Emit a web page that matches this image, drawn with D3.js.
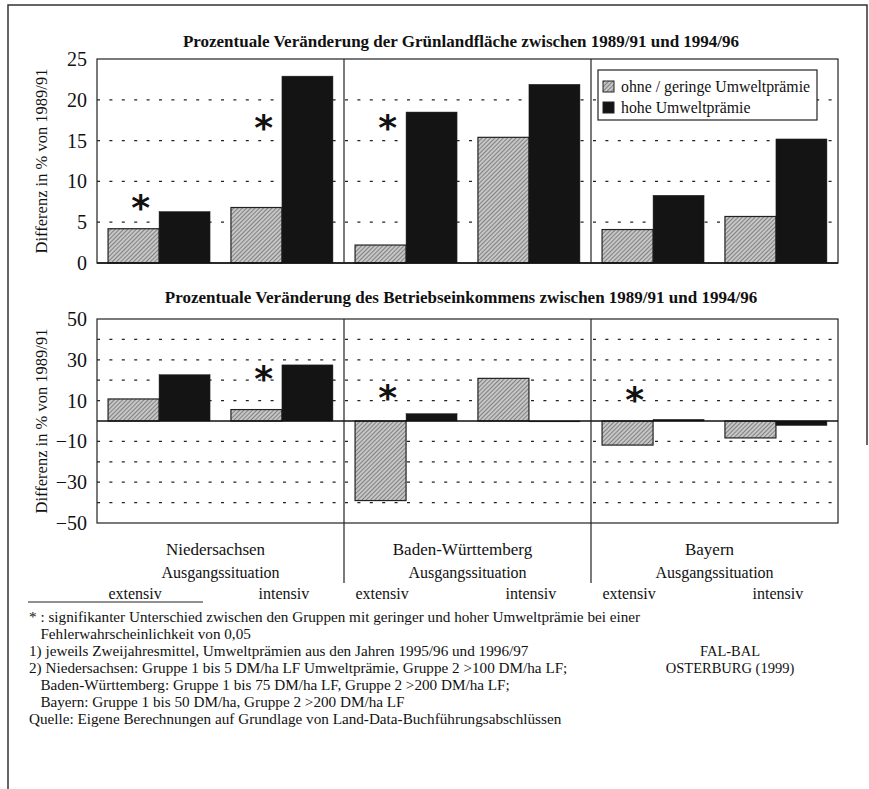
<!DOCTYPE html>
<html>
<head>
<meta charset="utf-8">
<script src="https://cdn.jsdelivr.net/npm/d3@7"></script>
<style>
  body { margin: 0; background: #fff; }
  text { font-family: "Liberation Serif", "Times New Roman", serif; fill: #111; }
</style>
</head>
<body>
<svg id="chart" width="869" height="789"></svg>
<script>
const regions = ['Niedersachsen', 'Baden-Württemberg', 'Bayern'];
const situations = ['extensiv', 'intensiv'];
const groups = ['ohne / geringe Umweltprämie', 'hohe Umweltprämie'];

// Grünlandfläche, % change (low / high premium), per region and situation
const gruenLow = [4.2, 6.8, 2.2, 15.4, 4.1, 5.7];
const gruenHigh = [6.3, 22.9, 18.5, 21.9, 8.3, 15.2];
// Betriebseinkommen, % change
const einkLow = [10.8, 5.6, -39.0, 20.9, -11.8, -8.3];
const einkHigh = [22.7, 27.5, 3.6, -0.4, 0.8, -2.2];
// significance markers (index of bar pair)
const gruenSig = [0, 1, 2];
const einkSig = [1, 2, 4];

const gruenTicks = [0, 5, 10, 15, 20, 25];
const gruenGrid = [5, 10, 15, 20];
const einkTicks = [-50, -30, -10, 10, 30, 50];
const einkGrid = [-40, -30, -20, -10, 10, 20, 30, 40];

const footnotes = [
  '* : signifikanter Unterschied zwischen den Gruppen mit geringer und hoher Umweltprämie bei einer',
  '   Fehlerwahrscheinlichkeit von 0,05',
  '1) jeweils Zweijahresmittel, Umweltprämien aus den Jahren 1995/96 und 1996/97',
  '2) Niedersachsen: Gruppe 1 bis 5 DM/ha LF Umweltprämie, Gruppe 2 >100 DM/ha LF;',
  '   Baden-Württemberg: Gruppe 1 bis 75 DM/ha LF, Gruppe 2 >200 DM/ha LF;',
  '   Bayern: Gruppe 1 bis 50 DM/ha, Gruppe 2 >200 DM/ha LF',
  'Quelle: Eigene Berechnungen auf Grundlage von Land-Data-Buchführungsabschlüssen'
];

const svg = d3.select('#chart');
const left = 97, right = 838;

// hatch pattern for the low premium group
const defs = svg.append('defs');
const pat = defs.append('pattern')
  .attr('id', 'hatch')
  .attr('patternUnits', 'userSpaceOnUse')
  .attr('width', 3).attr('height', 3)
  .attr('patternTransform', 'rotate(45)');
pat.append('rect').attr('width', 3).attr('height', 3).attr('fill', '#c6c6c6');
pat.append('line').attr('x1', 0).attr('y1', 0).attr('x2', 0).attr('y2', 3)
  .attr('stroke', '#3c3c3c').attr('stroke-width', 1);

// outer frame
svg.append('path')
  .attr('d', 'M8,789 L8,5 L867,5 L867,445')
  .attr('fill', 'none').attr('stroke', '#333').attr('stroke-width', 1.5);

const x0 = d3.scaleBand().domain(regions).range([left, right]);
const x1 = d3.scaleBand().domain(situations).range([0, x0.bandwidth()])
  .paddingInner(0.17).paddingOuter(0.09);
const x2 = d3.scaleBand().domain(groups).range([0, x1.bandwidth()]);

const rows = regions.flatMap(r => situations.map(s => ({ r, s })));

function panel(cfg) {
  const y = d3.scaleLinear().domain(cfg.domain).range([cfg.bottom, cfg.top]);
  const g = svg.append('g');

  g.append('text')
    .attr('x', 461).attr('y', cfg.titleY)
    .attr('text-anchor', 'middle')
    .attr('font-size', 17).attr('font-weight', 'bold')
    .text(cfg.title);

  // dashed grid
  g.selectAll('.grid').data(cfg.grid).enter().append('line')
    .attr('x1', left).attr('x2', right)
    .attr('y1', d => y(d)).attr('y2', d => y(d))
    .attr('stroke', '#222').attr('stroke-width', 1.2)
    .attr('stroke-dasharray', '3,9.4');

  // bars
  rows.forEach((row, i) => {
    const gx = x0(row.r) + x1(row.s);
    [cfg.low[i], cfg.high[i]].forEach((v, k) => {
      g.append('rect')
        .attr('x', gx + x2(groups[k]))
        .attr('y', y(Math.max(0, v)))
        .attr('width', x2.bandwidth())
        .attr('height', Math.abs(y(v) - y(0)))
        .attr('fill', k === 0 ? 'url(#hatch)' : '#141414')
        .attr('stroke', '#222').attr('stroke-width', k === 0 ? 1.2 : 0.5);
    });
  });

  // significance stars
  cfg.sig.forEach((i, j) => {
    const row = rows[i];
    const gx = x0(row.r) + x1(row.s);
    g.append('text')
      .attr('x', gx + x2.bandwidth() * 0.64)
      .attr('y', cfg.starY[j] + 17)
      .attr('text-anchor', 'middle')
      .attr('font-size', 36).attr('font-weight', 'bold')
      .style('font-family', 'DejaVu Sans')
      .text('*');
  });

  // box and zero line
  g.append('rect')
    .attr('x', left).attr('y', cfg.top)
    .attr('width', right - left).attr('height', cfg.bottom - cfg.top)
    .attr('fill', 'none').attr('stroke', '#222').attr('stroke-width', 1.2);
  g.append('line')
    .attr('x1', left).attr('x2', right)
    .attr('y1', y(0)).attr('y2', y(0))
    .attr('stroke', '#111').attr('stroke-width', 1.3);

  // region dividers
  g.selectAll('.div').data(regions.slice(1)).enter().append('line')
    .attr('x1', d => x0(d)).attr('x2', d => x0(d))
    .attr('y1', cfg.top).attr('y2', cfg.divEnd)
    .attr('stroke', '#222').attr('stroke-width', 1.2);

  // y axis
  const axis = g.append('g')
    .attr('transform', `translate(${left},0)`)
    .call(d3.axisLeft(y).tickValues(cfg.ticks).tickSize(0).tickPadding(10));
  axis.select('.domain').remove();
  axis.selectAll('text')
    .attr('font-size', 20)
    .attr('fill', '#111');

  g.append('text')
    .attr('transform', `translate(47,${(cfg.top + cfg.bottom) / 2})rotate(-90)`)
    .attr('text-anchor', 'middle')
    .attr('font-size', 16.5)
    .text('Differenz in % von 1989/91');
}

panel({
  title: 'Prozentuale Veränderung der Grünlandfläche zwischen 1989/91 und 1994/96',
  domain: [0, 25], top: 59, bottom: 263, divEnd: 263, titleY: 47,
  ticks: gruenTicks, grid: gruenGrid,
  low: gruenLow, high: gruenHigh, sig: gruenSig, starY: [203, 123, 123]
});

panel({
  title: 'Prozentuale Veränderung des Betriebseinkommens zwischen 1989/91 und 1994/96',
  domain: [-50, 50], top: 319, bottom: 523, divEnd: 583, titleY: 303,
  ticks: einkTicks, grid: einkGrid,
  low: einkLow, high: einkHigh, sig: einkSig, starY: [374, 393, 395]
});

// legend
const leg = svg.append('g').attr('transform', 'translate(598,70)');
leg.append('rect').attr('width', 219).attr('height', 50)
  .attr('fill', '#fff').attr('stroke', '#222').attr('stroke-width', 1.2);
groups.forEach((name, k) => {
  leg.append('rect')
    .attr('x', 5).attr('y', 11 + k * 21).attr('width', 11).attr('height', 11)
    .attr('fill', k === 0 ? 'url(#hatch)' : '#141414')
    .attr('stroke', '#222').attr('stroke-width', 1);
  leg.append('text')
    .attr('x', 23).attr('y', 22 + k * 21)
    .attr('font-size', 15.8)
    .text(name);
});

// category labels under the lower chart
const lab = svg.append('g');
regions.forEach(r => {
  const cx = x0(r) + x0.bandwidth() / 2;
  lab.append('text').attr('x', cx - 5).attr('y', 555)
    .attr('text-anchor', 'middle').attr('font-size', 17).text(r);
  lab.append('text').attr('x', cx).attr('y', 578)
    .attr('text-anchor', 'middle').attr('font-size', 16).text('Ausgangssituation');
  situations.forEach((s, k) => {
    const sx = x0(r) + x1(s) + x1.bandwidth() / 2 + (k === 0 ? -24 : 2);
    lab.append('text').attr('x', sx).attr('y', 599)
      .attr('text-anchor', 'middle').attr('font-size', 16).text(s);
  });
});

// footnotes
svg.append('line').attr('x1', 28).attr('x2', 203).attr('y1', 602).attr('y2', 602)
  .attr('stroke', '#222').attr('stroke-width', 1);
const fn = svg.append('g').attr('font-size', 15.2);
footnotes.forEach((t, i) => {
  fn.append('text')
    .attr('x', 29).attr('y', 622 + i * 17)
    .attr('xml:space', 'preserve')
    .style('white-space', 'pre')
    .text(t);
});
svg.append('text').attr('x', 730).attr('y', 656).attr('text-anchor', 'middle')
  .attr('font-size', 14.5).text('FAL-BAL');
svg.append('text').attr('x', 730).attr('y', 673).attr('text-anchor', 'middle')
  .attr('font-size', 14.5).text('OSTERBURG (1999)');
</script>
</body>
</html>
